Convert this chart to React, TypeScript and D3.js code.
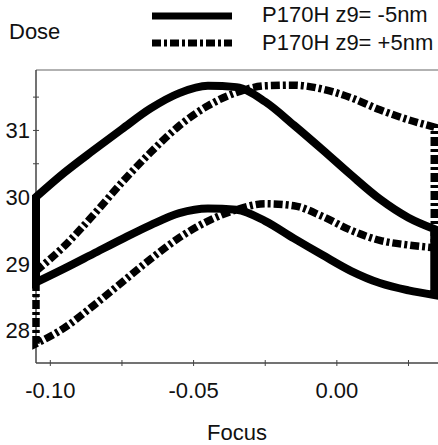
import React from "react";
import * as d3 from "d3";

const focus = [-0.105, -0.095, -0.085, -0.075, -0.065, -0.055, -0.045, -0.035, -0.025, -0.015, -0.005, 0.005, 0.015, 0.025, 0.034];
const minusUpper = [30.0, 30.37, 30.7, 31.02, 31.33, 31.56, 31.67, 31.65, 31.43, 31.08, 30.71, 30.33, 29.97, 29.69, 29.52];
const minusLower = [28.72, 28.93, 29.15, 29.37, 29.58, 29.76, 29.83, 29.81, 29.64, 29.38, 29.13, 28.89, 28.71, 28.6, 28.53];
const plusUpper = [28.89, 29.27, 29.73, 30.22, 30.67, 31.07, 31.37, 31.57, 31.67, 31.68, 31.62, 31.49, 31.31, 31.16, 31.05];
const plusLower = [27.8, 28.04, 28.37, 28.72, 29.07, 29.39, 29.64, 29.81, 29.9, 29.87, 29.71, 29.5, 29.35, 29.28, 29.24];

const xMajor = [-0.1, -0.05, 0.0];
const xMinor = [-0.075, -0.025, 0.025];
const yMajor = [28, 29, 30, 31];
const yMinor = [28.5, 29.5, 30.5, 31.5];
const legendLabels = ["P170H z9= -5nm", "P170H z9= +5nm"];

const W = 438, H = 445;
const left = 36, top = 70, bottom = 363, right = 438;
const FONT = "'Liberation Sans', Arial, sans-serif";

export default function App() {
  const x = d3.scaleLinear().domain([-0.105, 0.0353]).range([left, right]);
  const y = d3.scaleLinear().domain([27.51, 31.907]).range([bottom, top]);
  const line = d3
    .line<[number, number]>()
    .x((d) => x(d[0]))
    .y((d) => y(d[1]))
    .curve(d3.curveMonotoneX);

  const closed = (up: number[], lo: number[]) => {
    const u: [number, number][] = focus.map((f, i) => [f, up[i]]);
    const l: [number, number][] = focus.map((f, i) => [f, lo[i]] as [number, number]).reverse();
    const a = line(u) as string;
    const b = (line(l) as string).replace(/^M/, "L");
    return a + b + "Z";
  };
  const fmt = (t: number) => d3.format(".2f")(t).replace("\u2212", "-");

  const dash = "9,3,3,3";
  return (
    <svg width={W} height={H} style={{ position: "absolute", left: 0, top: 0, background: "#fff" }}>
      {/* frame */}
      <line x1={left} x2={right} y1={top} y2={top} stroke="#999" strokeWidth={1.5} />
      <line x1={left} x2={left} y1={top} y2={bottom} stroke="#444" strokeWidth={1.5} />
      <line x1={left} x2={right} y1={bottom} y2={bottom} stroke="#444" strokeWidth={1.5} />
      {xMajor.concat(xMinor).map((t) => (
        <line key={"xt" + t} x1={x(t)} x2={x(t)} y1={bottom - 3} y2={bottom + 3} stroke="#444" strokeWidth={1} />
      ))}
      {yMajor.concat(yMinor).map((t) => (
        <line key={"yt" + t} x1={left - 3} x2={left + 3} y1={y(t)} y2={y(t)} stroke="#444" strokeWidth={1} />
      ))}
      {xMajor.map((t) => (
        <text key={"xl" + t} x={x(t)} y={398} textAnchor="middle" fontFamily={FONT} fontSize={22} fill="#111">
          {fmt(t)}
        </text>
      ))}
      {yMajor.map((t) => (
        <text key={"yl" + t} x={30} y={y(t) + 8} textAnchor="end" fontFamily={FONT} fontSize={22} fill="#111">
          {t}
        </text>
      ))}
      <text x={237} y={440} textAnchor="middle" fontFamily={FONT} fontSize={22} fill="#111">Focus</text>
      <text x={9} y={39} fontFamily={FONT} fontSize={22} fill="#111">Dose</text>

      {/* curves */}
      <path d={closed(plusUpper, plusLower)} fill="none" stroke="#000" strokeWidth={7.5} strokeDasharray={dash} />
      <path d={closed(minusUpper, minusLower)} fill="none" stroke="#000" strokeWidth={8} strokeLinejoin="miter" />

      {/* legend */}
      <line x1={152} x2={232} y1={16} y2={16} stroke="#000" strokeWidth={7} />
      <line x1={152} x2={232} y1={43} y2={43} stroke="#000" strokeWidth={7} strokeDasharray={dash} />
      <text x={262} y={22} fontFamily={FONT} fontSize={22} fill="#111">{legendLabels[0]}</text>
      <text x={262} y={50} fontFamily={FONT} fontSize={22} fill="#111">{legendLabels[1]}</text>
    </svg>
  );
}
